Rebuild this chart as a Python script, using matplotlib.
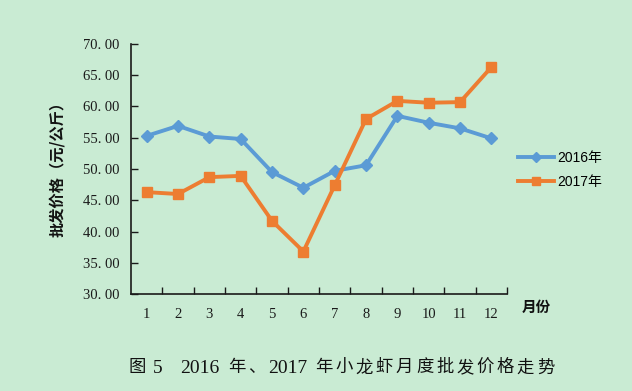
import re
import matplotlib
matplotlib.use("Agg")
import matplotlib.pyplot as plt

months = [1, 2, 3, 4, 5, 6, 7, 8, 9, 10, 11, 12]
month_labels = ["1", "2", "3", "4", "5", "6", "7", "8", "9", "10", "11", "12"]
price_2016 = [55.3, 56.9, 55.2, 54.8, 49.5, 47.0, 49.7, 50.6, 58.5, 57.4, 56.5, 54.9]
price_2017 = [46.3, 46.0, 48.7, 48.9, 41.7, 36.8, 47.4, 58.0, 60.9, 60.6, 60.7, 66.3]
y_ticks = [30, 35, 40, 45, 50, 55, 60, 65, 70]
series_names = ["2016年", "2017年"]
caption = "图 5   2016 年、2017 年小龙虾月度批发价格走势"

bg = "#c9ebd3"
blue = "#5b9bd5"
orange = "#ed7d31"
cjk = ["Noto Sans CJK SC", "DejaVu Sans"]
legfont = ["Liberation Sans", "Noto Sans CJK SC"]
serif = ["Liberation Serif", "Noto Sans CJK SC"]

fig = plt.figure(figsize=(6.32, 3.91), dpi=100, facecolor=bg)
ax = fig.add_axes([0.2073, 0.248, 0.5950, 0.6395])
ax.set_facecolor(bg)

ax.plot(months, price_2016, color=blue, lw=2.8, marker="D", ms=6.5,
        mec=blue, mfc=blue, label=series_names[0], zorder=3)
ax.plot(months, price_2017, color=orange, lw=2.8, marker="s", ms=7,
        mec=orange, mfc=orange, label=series_names[1], zorder=3)

ax.set_xlim(0.5, 12.5)
ax.set_ylim(30, 70)
ax.set_yticks(y_ticks)
ax.set_yticklabels([f"{v:.2f}".replace(".", ". ") for v in y_ticks],
                   family=serif, fontsize=10.5, color="#1a1a1a")
ax.set_xticks(months)
ax.set_xticklabels(month_labels, family=serif, fontsize=10.5, color="#1a1a1a")
ax.set_xticks([m + 0.5 for m in months], minor=True)
ax.tick_params(axis="x", which="major", length=0, pad=10)
ax.tick_params(axis="x", which="minor", direction="in", length=5, width=1, color="#1a1a1a")
ax.tick_params(axis="y", direction="in", length=5, width=1, color="#1a1a1a", pad=8.5)

for s in ["top", "right"]:
    ax.spines[s].set_visible(False)
for s in ["left", "bottom"]:
    ax.spines[s].set_color("#1a1a1a")
    ax.spines[s].set_linewidth(1.2)

fig.text(0.09, 0.578, "批发价格（元/公斤）", rotation=90, ha="center", va="center",
         family=cjk, fontsize=11, fontweight="bold", color="#111111")
fig.text(0.826, 0.215, "月份", ha="left", va="center", family=cjk,
         fontsize=10.5, fontweight="bold", color="#111111")

leg = fig.legend(loc="center left", bbox_to_anchor=(0.800, 0.565), frameon=False,
                 prop={"family": legfont, "size": 10}, handlelength=2.6,
                 handletextpad=0.2, labelspacing=0.75, markerscale=0.8)

# caption, drawn with slight letter spacing like the original
renderer = fig.canvas.get_renderer()
x_px = 128.0
y_frac = 0.058
spacing = 2.8
for tok in re.findall(r"\d+| |.", caption):
    if tok == " ":
        x_px += 5.0
        continue
    size = 14 if tok.isdigit() else 12.5
    t = fig.text(x_px / 632, y_frac, tok, ha="left", va="center", family=serif,
                 fontsize=size, color="#111111")
    w = t.get_window_extent(renderer).width
    x_px += w + spacing

fig.savefig("out.png", dpi=100, facecolor=bg)
